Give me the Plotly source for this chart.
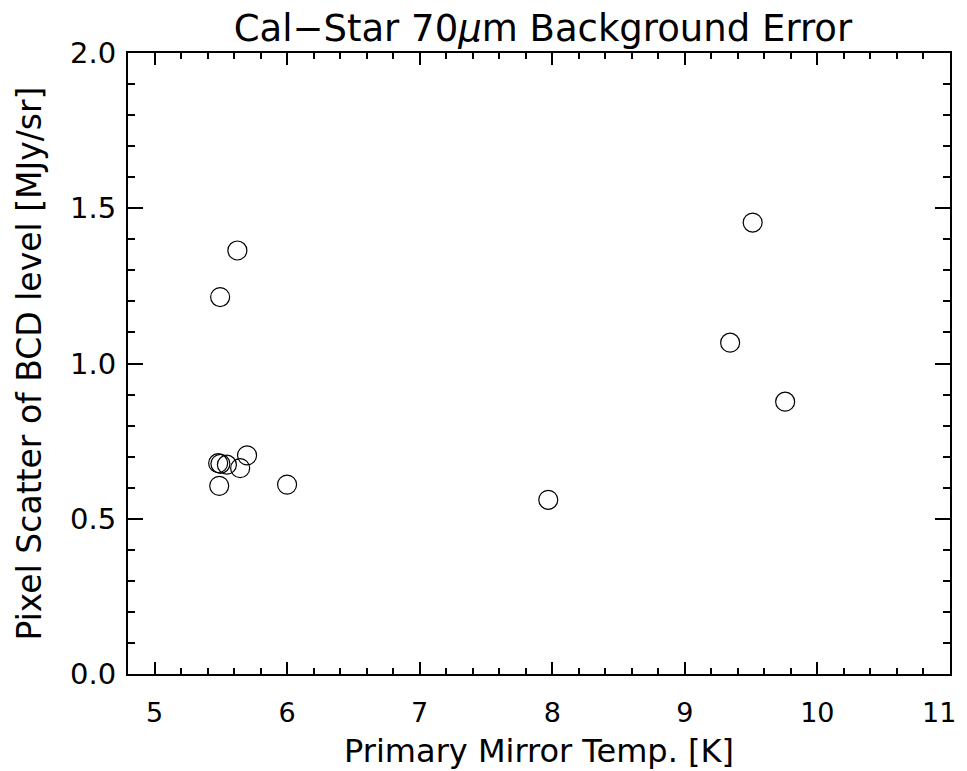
import plotly.graph_objects as go

# Data
mirror_temp_K = [5.625, 5.495, 5.698, 5.480, 5.497, 5.546, 5.646, 5.488, 6.000, 9.512, 9.342, 9.757, 7.970]
pixel_scatter = [1.364, 1.214, 0.704, 0.679, 0.677, 0.674, 0.663, 0.606, 0.610, 1.454, 1.067, 0.877, 0.561]

x_tickvals = [5, 6, 7, 8, 9, 10, 11]
x_ticklabels = ["5", "6", "7", "8", "9", "10", "11"]
y_tickvals = [0.0, 0.5, 1.0, 1.5, 2.0]

FONT = "DejaVu Sans"
X_TICK_SIZE = 27

fig = go.Figure()
fig.add_trace(go.Scatter(
    x=mirror_temp_K, y=pixel_scatter, mode="markers",
    marker=dict(symbol="circle-open", size=19, color="black", line=dict(width=1.2, color="black")),
    showlegend=False, cliponaxis=False,
))

axis_common = dict(
    showline=True, linecolor="black", linewidth=2, mirror="allticks",
    ticks="inside", tickcolor="black", tickwidth=1.5,
    showgrid=False, zeroline=False, automargin=False,
)

# the last x tick label sits at the right edge of the page: draw it right-aligned so it stays visible
shown_x_text = x_ticklabels[:-1] + [""]
fig.add_annotation(
    x=x_tickvals[-1], xref="x", y=0, yref="paper",
    text=x_ticklabels[-1], showarrow=False,
    xanchor="right", yanchor="middle", xshift=8, yshift=-38,
    font=dict(family=FONT, size=X_TICK_SIZE, color="black"),
)

fig.update_layout(
    width=951, height=763,
    paper_bgcolor="white", plot_bgcolor="white",
    margin=dict(l=120, r=9, t=45, b=97),
    title=dict(text="Cal−Star 70<i>μ</i>m Background Error",
               font=dict(family=FONT, size=37, color="black"),
               x=0.5625, xanchor="center", y=0.9735, yanchor="middle"),
    xaxis=dict(range=[4.8, 11.0005], tickvals=x_tickvals, ticktext=shown_x_text, ticklen=12,
               tickfont=dict(family=FONT, size=X_TICK_SIZE, color="black"),
               minor=dict(dtick=0.2, tick0=5, ticks="inside", ticklen=6, tickwidth=1.5, tickcolor="black", showgrid=False),
               title=dict(text="Primary Mirror Temp. [K]", font=dict(family=FONT, size=32, color="black"), standoff=12),
               ticklabelstandoff=14,
               **axis_common),
    yaxis=dict(range=[0, 2], tickvals=y_tickvals, tickformat=".1f", ticklen=15,
               tickfont=dict(family=FONT, size=29, color="black"),
               minor=dict(dtick=0.1, tick0=0, ticks="inside", ticklen=7, tickwidth=1.5, tickcolor="black", showgrid=False),
               title=dict(text="Pixel Scatter of BCD level [MJy/sr]", font=dict(family=FONT, size=33, color="black"), standoff=19),
               ticklabelstandoff=4,
               **axis_common),
)

fig.write_html("out.html")
